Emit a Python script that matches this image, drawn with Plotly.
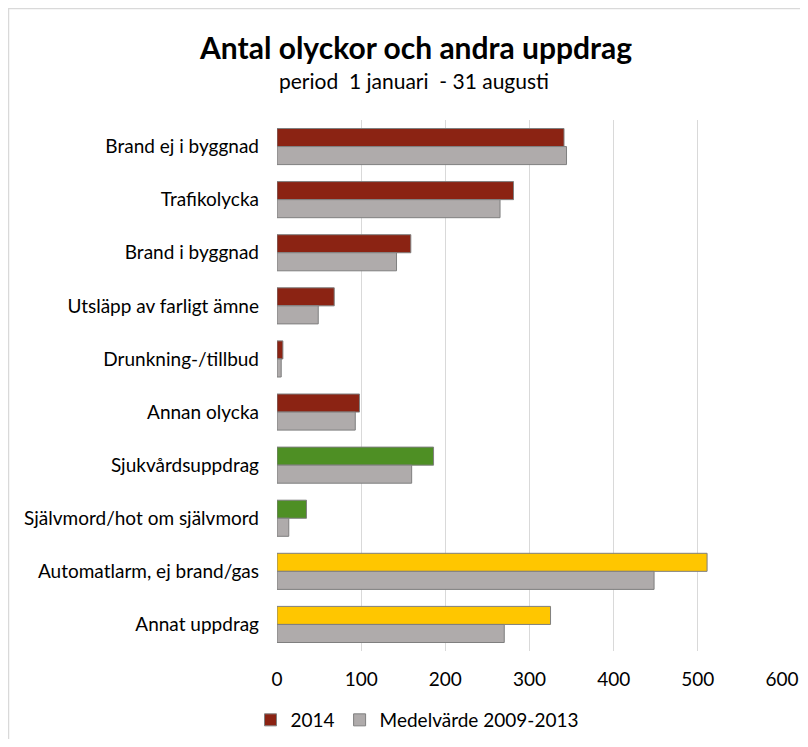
import plotly.graph_objects as go

categories = [
    "Brand ej i byggnad",
    "Trafikolycka",
    "Brand i byggnad",
    "Utsläpp av farligt ämne",
    "Drunkning-/tillbud",
    "Annan olycka",
    "Sjukvårdsuppdrag",
    "Självmord/hot om självmord",
    "Automatlarm, ej brand/gas",
    "Annat uppdrag",
]
values_2014 = [341, 281, 159, 68, 7, 98, 186, 35, 511, 325]
values_medel = [344, 265, 142, 49, 5, 93, 160, 14, 448, 270]
colors_2014 = ["#8B2313"] * 6 + ["#4E8F24"] * 2 + ["#FFC600"] * 2
x_ticks = [0, 100, 200, 300, 400, 500, 600]

FONT = "Lato"
OFF = 8  # default page body margin
W, H = 808 - 2 * OFF, 747 - 2 * OFF
# plot area in page pixels
L, R, T, B = 277, 782, 120, 651


def px(x):
    return (x - L) / (R - L)


def py(y):
    return (B - y) / (B - T)


fig = go.Figure()
fig.add_trace(go.Bar(
    y=categories, x=values_2014, orientation="h", name="2014",
    marker=dict(color=colors_2014, line=dict(color="#7F7F7F", width=1)),
))
fig.add_trace(go.Bar(
    y=categories, x=values_medel, orientation="h", name="Medelvärde 2009-2013",
    marker=dict(color="#AFABAB", line=dict(color="#7F7F7F", width=1)),
))

fig.update_layout(
    width=W, height=H,
    margin=dict(l=L - OFF, r=W - (R - OFF), t=T - OFF, b=H - (B - OFF), pad=0,
                autoexpand=False),
    paper_bgcolor="white", plot_bgcolor="white",
    barmode="group", bargap=0.32, bargroupgap=0,
    font=dict(family=FONT, size=19, color="#000000"),
    showlegend=True,
    legend=dict(orientation="h", x=px(417), xanchor="center", y=py(720), yanchor="middle",
                font=dict(size=19), itemwidth=30, traceorder="normal"),
    xaxis=dict(range=[0, 600], tickvals=x_ticks, showgrid=True, gridcolor="#D9D9D9",
               gridwidth=1, zeroline=False, showline=False, ticks="",
               ticklabelstandoff=15, tickfont=dict(size=19)),
    yaxis=dict(autorange="reversed", showgrid=False, zeroline=False, showline=False,
               ticks="", ticklabelstandoff=17, tickfont=dict(size=19)),
    annotations=[
        dict(text="<b>Antal olyckor och andra uppdrag</b>", xref="paper", yref="paper",
             x=px(415), y=py(47), xanchor="center", yanchor="middle", showarrow=False,
             font=dict(size=30, family=FONT, color="#000000")),
        dict(text="period  1 januari  - 31 augusti", xref="paper", yref="paper",
             x=px(414), y=py(80), xanchor="center", yanchor="middle", showarrow=False,
             font=dict(size=21, family=FONT, color="#000000")),
    ],
    shapes=[
        dict(type="line", xref="paper", yref="paper", x0=px(OFF), x1=px(808), y0=py(OFF + 0.5),
             y1=py(OFF + 0.5), line=dict(color="#D9D9D9", width=1.5)),
        dict(type="line", xref="paper", yref="paper", x0=px(OFF + 0.5), x1=px(OFF + 0.5),
             y0=py(OFF), y1=py(747), line=dict(color="#D9D9D9", width=1.5)),
    ],
)

fig.write_html("out.html")
